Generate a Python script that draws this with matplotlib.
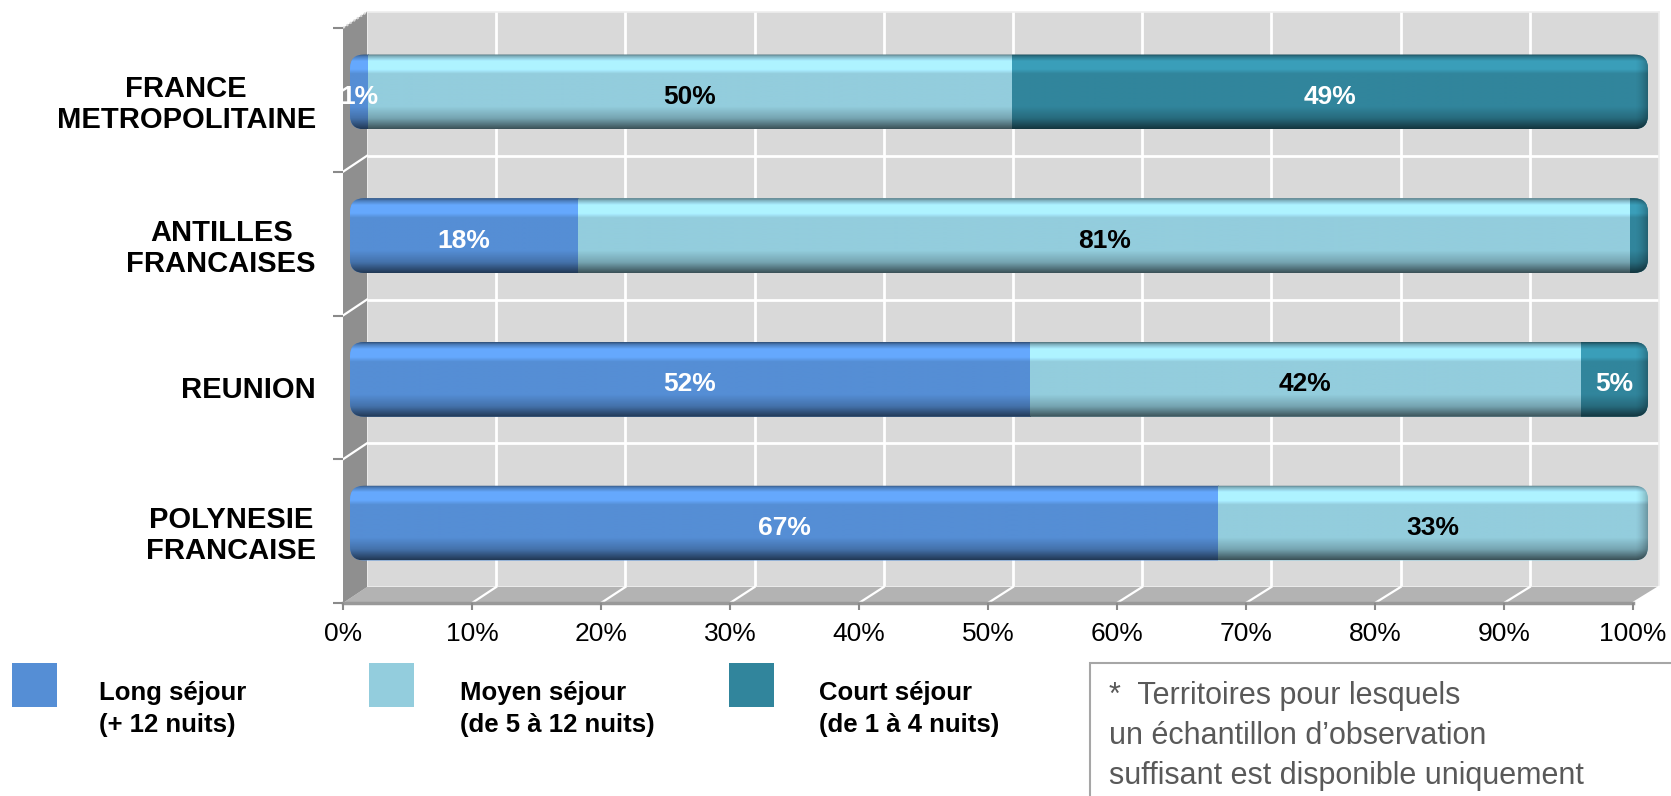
import numpy as np
import matplotlib
matplotlib.use("Agg")
import matplotlib.pyplot as plt
from matplotlib.patches import FancyBboxPatch, Polygon, Rectangle
from matplotlib.lines import Line2D
from matplotlib.colors import to_rgb

plt.rcParams['font.family'] = ['Liberation Sans', 'DejaVu Sans']

# ---------------- data ----------------
categories = ["FRANCE\nMETROPOLITAINE", "ANTILLES\nFRANCAISES", "REUNION", "POLYNESIE\nFRANCAISE"]
long_sejour = [1.4, 17.6, 52.4, 66.9]
moyen_sejour = [49.6, 81.0, 42.4, 33.1]
court_sejour = [49.0, 1.4, 5.2, 0.0]
series_names = ["Long séjour\n(+ 12 nuits)", "Moyen séjour\n(de 5 à 12 nuits)", "Court séjour\n(de 1 à 4 nuits)"]
series_colors = ["#558ed5", "#93cddd", "#31859c"]
label_colors = ["white", "black", "white"]
hidden_labels = [(1, 2)]          # (category index, series index) without a data label
xticks = list(range(0, 101, 10))
xtick_labels = [f"{t}%" for t in xticks]
note_text = "*  Territoires pour lesquels\nun échantillon d’observation\nsuffisant est disponible uniquement"

series = [long_sejour, moyen_sejour, court_sejour]

# ---------------- figure ----------------
W, H = 1671, 796
DPI = 100
fig = plt.figure(figsize=(W / DPI, H / DPI), dpi=DPI)
fig.patch.set_facecolor("white")


def pos(x0, x1, ytop, ybot):
    return [x0 / W, 1 - ybot / H, (x1 - x0) / W, (ybot - ytop) / H]


n = len(categories)
ylim = (n - 0.5, -0.5)

ax_back = fig.add_axes(pos(367, 1659, 12, 587), zorder=0)
ax_main = fig.add_axes(pos(350, 1648, 20, 595), zorder=2)
ax_front = fig.add_axes(pos(343, 1633, 28, 603), zorder=3)
for a in (ax_back, ax_main, ax_front):
    a.set_xlim(0, 100)
    a.set_ylim(*ylim)

# back wall
ax_back.set_facecolor("#d9d9d9")
for s in ax_back.spines.values():
    s.set_color("#eeeeee")
    s.set_linewidth(1.2)
ax_back.set_xticks([])
ax_back.set_yticks([])
for t in xticks[1:-1]:
    ax_back.axvline(t, color="white", lw=2.0)
for b in np.arange(0.5, n - 0.5, 1.0):
    ax_back.axhline(b, color="white", lw=2.0)

# floor & left wall (in figure coordinates, derived from axes transforms)
inv = fig.transFigure.inverted()


def fpt(ax, xy, trans="axes"):
    tr = ax.transAxes if trans == "axes" else ax.transData
    return inv.transform(tr.transform(xy))


floor = Polygon([fpt(ax_front, (0, 0)), fpt(ax_front, (1, 0)),
                 fpt(ax_back, (1, 0)), fpt(ax_back, (0, 0))],
                closed=True, transform=fig.transFigure, facecolor="#b3b3b3",
                edgecolor="none", zorder=1)
fig.add_artist(floor)
lwall = Polygon([fpt(ax_front, (0, 1)), fpt(ax_back, (0, 1)),
                 fpt(ax_back, (0, 0)), fpt(ax_front, (0, 0))],
                closed=True, transform=fig.transFigure, facecolor="#8f8f8f",
                edgecolor="none", zorder=1)
fig.add_artist(lwall)

for t in xticks[1:]:
    p0 = fpt(ax_front, (t, n - 0.5), "data")
    p1 = fpt(ax_back, (t, n - 0.5), "data")
    fig.add_artist(Line2D([p0[0], p1[0]], [p0[1], p1[1]], transform=fig.transFigure,
                          color="white", lw=1.6, zorder=1.1))
for b in np.arange(0.5, n - 0.5, 1.0):
    p0 = fpt(ax_front, (0, b), "data")
    p1 = fpt(ax_back, (0, b), "data")
    fig.add_artist(Line2D([p0[0], p1[0]], [p0[1], p1[1]], transform=fig.transFigure,
                          color="white", lw=1.6, zorder=1.1))
p0 = fpt(ax_front, (0, 1))
p1 = fpt(ax_back, (0, 1))
fig.add_artist(Line2D([p0[0], p1[0]], [p0[1], p1[1]], transform=fig.transFigure,
                      color="#d8d8d8", lw=1.5, ls=(0, (1, 1)), zorder=1.1))
p0 = fpt(ax_front, (0, 0))
p1 = fpt(ax_front, (1, 0))
fig.add_artist(Line2D([p0[0], p1[0]], [p0[1], p1[1]], transform=fig.transFigure,
                      color="#999999", lw=2.5, zorder=1.2))

# ---------------- bars ----------------
ax_main.set_facecolor("none")
ax_main.axis("off")

bar_h = 0.52
px_x = 1298 / 100.0
px_y = 575 / n
rx = 14 / px_x
ry = 14 / px_y


def gradient(color, N=120):
    base = np.array(to_rgb(color))
    t = np.linspace(0, 1, N)
    kx = [0.0, 0.03, 0.09, 0.20, 0.26, 0.70, 0.86, 1.0]
    ky = [0.58, 0.88, 1.19, 1.19, 1.0, 1.0, 0.80, 0.40]
    f = np.interp(t, kx, ky)
    img = np.clip(base[None, :] * f[:, None], 0, 1)
    return img[:, None, :]


for i in range(n):
    total = sum(s[i] for s in series)
    clip = FancyBboxPatch((0, i - bar_h / 2), total, bar_h,
                          boxstyle=f"round,pad=0,rounding_size={rx}",
                          mutation_aspect=ry / rx, transform=ax_main.transData)
    left = 0.0
    last_j = max(j for j in range(len(series)) if series[j][i] > 0)
    for j, vals in enumerate(series):
        v = vals[i]
        if v <= 0:
            continue
        bars = ax_main.barh(i, v, left=left, height=bar_h, color=series_colors[j],
                            linewidth=0, zorder=2)
        bars[0].set_clip_path(clip)
        im = ax_main.imshow(gradient(series_colors[j]),
                            extent=(left, left + v, i + bar_h / 2, i - bar_h / 2),
                            aspect="auto", interpolation="bilinear", zorder=2.1)
        im.set_clip_path(clip)
        if j == last_j:
            cap_w = 1.0
            a = np.zeros((1, 40, 4))
            a[0, :, 3] = np.linspace(0, 0.42, 40) ** 1.5
            imc = ax_main.imshow(a, extent=(left + v - cap_w, left + v,
                                            i + bar_h / 2, i - bar_h / 2),
                                 aspect="auto", interpolation="bilinear", zorder=2.2)
            imc.set_clip_path(clip)
        if (i, j) not in hidden_labels:
            ax_main.text(left + v / 2, i + 0.035, f"{v:.0f}%", ha="center", va="center",
                         color=label_colors[j], fontsize=19, fontweight="bold", zorder=3)
        left += v

ax_main.set_xlim(0, 100)
ax_main.set_ylim(*ylim)

# ---------------- front axis (ticks / labels) ----------------
ax_front.set_facecolor("none")
for s in ax_front.spines.values():
    s.set_visible(False)
ax_front.set_xticks(xticks)
ax_front.set_xticklabels(xtick_labels)
ax_front.tick_params(axis="x", length=5, width=1.5, color="#8a8a8a", pad=9,
                     labelsize=19, labelcolor="black")
ax_front.set_yticks(np.arange(-0.5, n, 1.0))
ax_front.set_yticklabels([])
ax_front.tick_params(axis="y", which="major", length=7, width=1.5, color="#8a8a8a")
ax_front.set_yticks(range(n), minor=True)
ax_front.set_yticklabels(categories, minor=True)
ax_front.tick_params(axis="y", which="minor", length=0, pad=19.5, labelsize=21)
for lbl in ax_front.get_yticklabels(minor=True):
    lbl.set_fontweight("bold")
    lbl.set_multialignment("center")
    lbl.set_linespacing(1.15)

# ---------------- legend ----------------
leg_sq_x = [12, 369, 729]
leg_tx_x = [99, 460, 819]
for j, name in enumerate(series_names):
    fig.add_artist(Rectangle((leg_sq_x[j] / W, 1 - 707 / H), 45 / W, 44 / H,
                             transform=fig.transFigure, facecolor=series_colors[j],
                             edgecolor="none"))
    fig.text(leg_tx_x[j] / W, 1 - 709 / H, name, ha="left", va="center",
             fontsize=18.5, fontweight="bold", linespacing=1.45, color="black")

# ---------------- note box ----------------
fig.add_artist(Rectangle((1090 / W, -0.05), (W - 1090 + 20) / W, 1.05 - 663 / H,
                         transform=fig.transFigure, facecolor="none",
                         edgecolor="#a6a6a6", lw=1.5))
fig.text(1109 / W, 1 - 736 / H, note_text, ha="left", va="center", fontsize=22,
         color="#595959", linespacing=1.42)

fig.savefig("out.png", dpi=DPI, facecolor="white")
